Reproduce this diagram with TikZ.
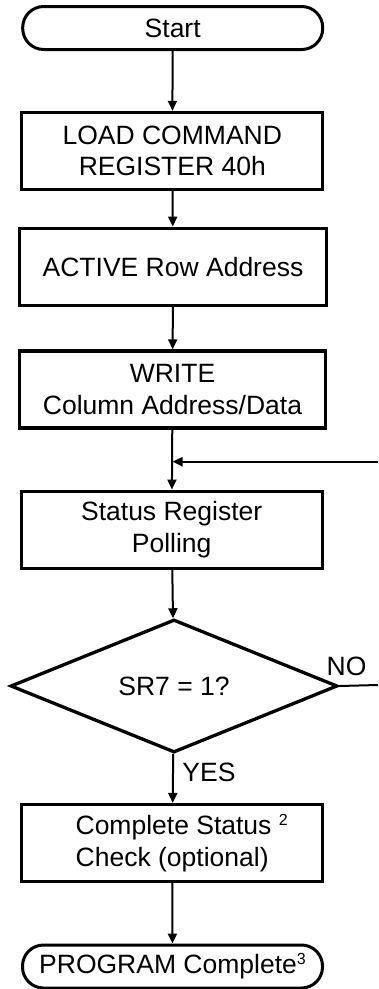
\documentclass[tikz,border=0pt]{standalone}
\usepackage{fontspec}
\setmainfont{Liberation Sans}
\usepackage{tikz}
\usetikzlibrary{calc,arrows.meta,shapes.geometric}

\newcommand{\footmark}[1]{{\fontsize{16}{16}\selectfont\raisebox{9pt}{#1}}}

\begin{document}
\begin{tikzpicture}[x=1pt,y=-1pt,
    every node/.style={font=\fontsize{26.5}{31.7}\selectfont, align=center},
    terminal/.style={draw, line width=3pt, rounded corners=21pt, minimum width=300pt, minimum height=43pt, inner sep=0pt},
    procbox/.style={draw, line width=3.3pt, minimum width=301pt, minimum height=77pt, inner sep=0pt},
    decision/.style={draw, diamond, line width=3.3pt, minimum width=327pt, minimum height=133pt, inner sep=0pt},
    flow/.style={line width=2pt, -{Triangle[length=10pt,width=9pt]}}]

    \useasboundingbox (0,0) rectangle (378,989);

    \node[terminal] (start) at (172.7,28) {Start};
    \node[procbox] (load) at (172.3,151) {LOAD COMMAND\\REGISTER 40h};
    \node[procbox, minimum width=307pt] (active) at (173,266.7) {ACTIVE Row Address};
    \node[procbox, minimum width=306pt] (write) at (172.5,389.5) {WRITE\\Column Address/Data};
    \node[procbox] (poll) at (171.7,529.7) {Status Register\\Polling};
    \node[decision] (sr) at (174,686) {SR7 = 1?};
    \node[procbox] (check) at (172.2,843) {\hspace*{19pt}Complete Status \footmark{2}\\Check (optional)};
    \node[terminal] (finish) at (172.5,966.5) {PROGRAM Complete\footmark{3}};

    \draw[flow] (start) -- (load);
    \draw[flow] (load) -- (active);
    \draw[flow] (active) -- (write);
    \draw[flow] (write) -- (poll);
    \draw[flow] (poll) -- (sr);
    \draw[flow] (sr) -- (check);
    \draw[flow] (check) -- (finish);

    \node (yes) at (209,772) {YES};
    \node (no) at (346.5,666) {NO};

    % loop back on NO
    \coordinate (noend) at (378,685);
    \coordinate (back) at (378,461.7);
    \coordinate (join) at (write.south |- back);
    \draw[line width=2pt] (sr.east) -- (noend);
    \draw[flow] (back) -- (join);

\end{tikzpicture}
\end{document}
